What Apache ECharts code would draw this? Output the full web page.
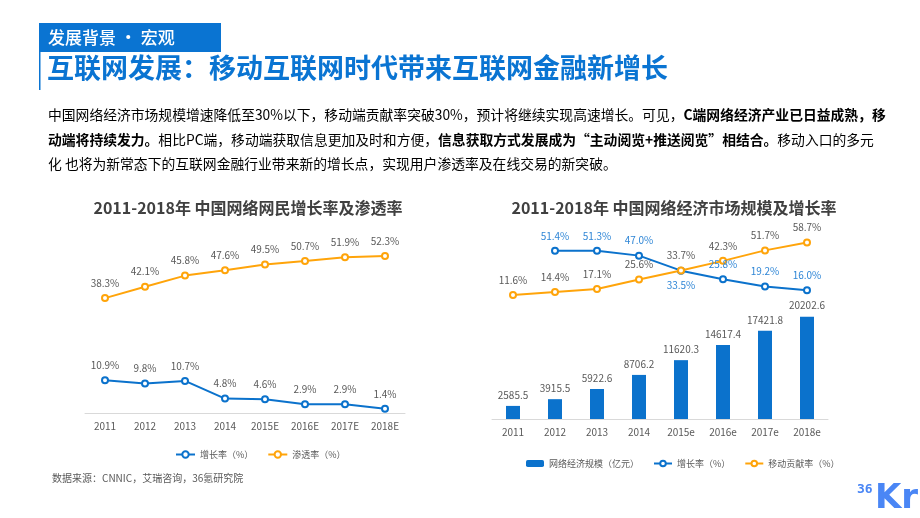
<!DOCTYPE html>
<html><head><meta charset="utf-8">
<script src="https://cdn.jsdelivr.net/npm/echarts@6/dist/echarts.min.js"></script>
<style>html,body{margin:0;padding:0;background:#fff}#c{width:920px;height:518px}</style>
</head><body><div id="c"></div>
<script>
// ---- data ----
const years = ['2011','2012','2013','2014','2015E','2016E','2017E','2018E'];
const netGrowth = [10.9, 9.8, 10.7, 4.8, 4.6, 2.9, 2.9, 1.4];
const penetration = [38.3, 42.1, 45.8, 47.6, 49.5, 50.7, 51.9, 52.3];
const econYears = ['2011','2012','2013','2014','2015e','2016e','2017e','2018e'];
const econScale = [2585.5, 3915.5, 5922.6, 8706.2, 11620.3, 14617.4, 17421.8, 20202.6];
const econGrowth = [null, 51.4, 51.3, 47.0, 33.5, 25.8, 19.2, 16.0];
const mobileShare = [11.6, 14.4, 17.1, 25.6, 33.7, 42.3, 51.7, 58.7];

const BLUE = '#0b72cc', ORANGE = '#ffa40a', GRAY = '#595959';
const FONT = '"Noto Sans CJK SC","Noto Sans",sans-serif';
const chart = echarts.init(document.getElementById('c'));

const pctLabel = (pos, color) => ({show: true, position: pos, distance: 6, fontSize: 10, color: color || GRAY, fontFamily: FONT, formatter: p => p.value == null ? '' : p.value.toFixed(1) + '%'});
const lineStyle = c => ({color: c, width: 2});
const catAxis = (gi, data, show) => ({type: 'category', gridIndex: gi, data: data, show: show,
  axisLine: {lineStyle: {color: '#d9d9d9'}}, axisTick: {show: false},
  axisLabel: {fontSize: 10, color: GRAY, margin: 8, fontFamily: FONT}});

chart.setOption({
  animation: false,
  textStyle: {fontFamily: FONT},
  title: [
    {text: '2011-2018年 中国网络网民增长率及渗透率', left: 243, top: 195, textAlign: 'center',
     textStyle: {fontSize: 16, fontWeight: 'bold', color: '#404040', fontFamily: FONT}},
    {text: '2011-2018年 中国网络经济市场规模及增长率', left: 669, top: 195, textAlign: 'center',
     textStyle: {fontSize: 16, fontWeight: 'bold', color: '#404040', fontFamily: FONT}}
  ],
  legend: [
    {data: ['增长率（%）', '渗透率（%）'], left: 170, top: 445, itemWidth: 19, itemHeight: 8, itemGap: 14,
     textStyle: {fontSize: 9, color: GRAY}},
    {data: ['网络经济规模（亿元）', {name: '增长率（%）'}, '移动贡献率（%）'], left: 521, top: 454, width: 380, itemWidth: 18, itemHeight: 7, itemGap: 14,
     textStyle: {fontSize: 9, color: GRAY}}
  ],
  grid: [
    {left: 85, width: 320, top: 233, height: 180},
    {left: 492, width: 336, top: 230, height: 78},
    {left: 492, width: 336, top: 292.4, height: 126.6}
  ],
  xAxis: [catAxis(0, years, true), catAxis(1, econYears, false), catAxis(2, econYears, true)],
  yAxis: [
    {type: 'value', gridIndex: 0, min: 0, max: 60, show: false},
    {type: 'value', gridIndex: 1, min: 0, max: 70, show: false},
    {type: 'value', gridIndex: 2, min: 0, max: 25000, show: false}
  ],
  series: [
    {name: '增长率（%）', type: 'line', xAxisIndex: 0, yAxisIndex: 0, data: netGrowth, symbol: 'emptyCircle', symbolSize: 6,
     lineStyle: lineStyle(BLUE), itemStyle: {color: BLUE}, label: pctLabel('top')},
    {name: '渗透率（%）', type: 'line', xAxisIndex: 0, yAxisIndex: 0, data: penetration, symbol: 'emptyCircle', symbolSize: 6,
     lineStyle: lineStyle(ORANGE), itemStyle: {color: ORANGE}, label: pctLabel('top')},
    {name: '网络经济规模（亿元）', type: 'bar', xAxisIndex: 2, yAxisIndex: 2, data: econScale, barWidth: 14,
     itemStyle: {color: BLUE}, label: {show: true, position: 'top', distance: 6, fontSize: 10, color: GRAY}},
    {name: '增长率（%）', type: 'line', xAxisIndex: 1, yAxisIndex: 1, symbol: 'emptyCircle', symbolSize: 6,
     data: econGrowth.map((v, i) => v == null ? null : (i === 4 ? {value: v, label: {position: 'bottom'}} : v)),
     lineStyle: lineStyle(BLUE), itemStyle: {color: BLUE}, label: pctLabel('top', '#2f86d6'), z: 3},
    {name: '移动贡献率（%）', type: 'line', xAxisIndex: 1, yAxisIndex: 1, data: mobileShare, symbol: 'emptyCircle', symbolSize: 6,
     lineStyle: lineStyle(ORANGE), itemStyle: {color: ORANGE}, label: pctLabel('top')}
  ],
  graphic: [
    {type: 'rect', shape: {x: 39, y: 23, width: 182, height: 29}, style: {fill: '#0a74d2'}},
    {type: 'rect', shape: {x: 39, y: 23, width: 1.5, height: 67}, style: {fill: '#0a74d2'}},
    {type: 'text', x: 48, y: 37.5, style: {text: '发展背景 • 宏观', fill: '#fff', font: '500 17px ' + FONT, textVerticalAlign: 'middle'}},
    {type: 'text', x: 47, y: 68, style: {text: '互联网发展：移动互联网时代带来互联网金融新增长', fill: '#0a74d2', font: 'bold 27px ' + FONT, textVerticalAlign: 'middle'}},
    {type: 'text', x: 48, y: 103, style: {
      text: '{n|中国网络经济市场规模增速降低至30%以下，移动端贡献率突破30%，预计将继续实现高速增长。可见，}{b|C端网络经济产业已日益成熟，移}\n' +
            '{b|动端将持续发力。}{n|相比PC端，移动端获取信息更加及时和方便，}{b|信息获取方式发展成为“主动阅览+推送阅览”相结合。}{n|移动入口的多元}\n' +
            '{n|化 也将为新常态下的互联网金融行业带来新的增长点，实现用户渗透率及在线交易的新突破。}',
      rich: {
        n: {fontSize: 13.8, color: '#555', lineHeight: 24.5, fontFamily: FONT},
        b: {fontSize: 13.8, color: '#0a74d2', fontWeight: 'bold', lineHeight: 24.5, fontFamily: FONT}
      }}},
    {type: 'text', x: 52, y: 478, style: {text: '数据来源：CNNIC，艾瑞咨询，36氪研究院', fill: GRAY, font: '10px ' + FONT, textVerticalAlign: 'middle'}},
    {type: 'text', x: 857, y: 490, style: {text: '36', fill: '#4a86f5', font: 'bold 13px "DejaVu Sans Mono",monospace', textVerticalAlign: 'middle'}},
    {type: 'text', x: 875, y: 499, style: {text: 'Kr', fill: '#4a86f5', font: 'bold 34px "DejaVu Sans",sans-serif', textVerticalAlign: 'middle'}}
  ]
});
</script></body></html>
